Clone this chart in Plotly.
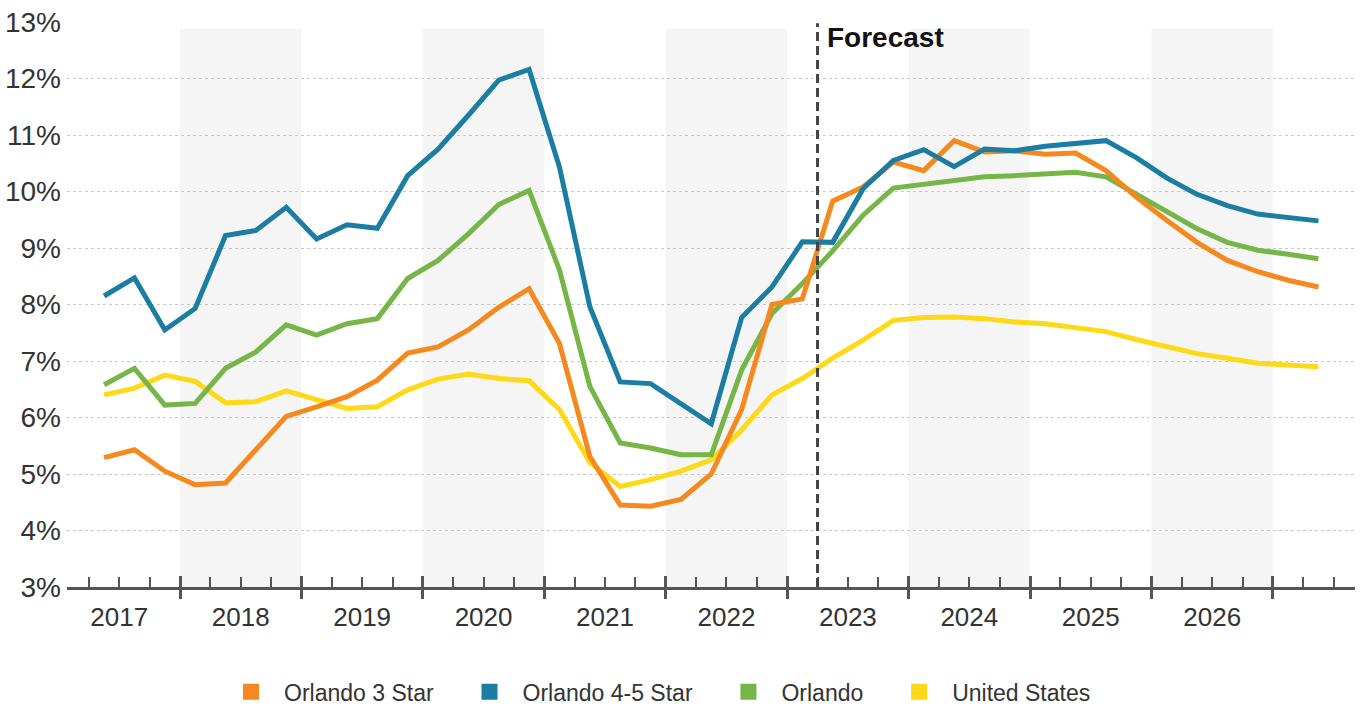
import plotly.graph_objects as go

# Quarterly vacancy series, 2017 Q2 through 2027 Q2
quarters = [f"{y} Q{q}" for y in range(2017, 2028) for q in range(1, 5)][1:42]

orlando_3_star = [
    5.29, 5.43, 5.05, 4.81, 4.84, 5.43, 6.02, 6.19, 6.37, 6.66,
    7.14, 7.25, 7.55, 7.95, 8.28, 7.31, 5.31, 4.45, 4.43, 4.55,
    5.00, 6.14, 8.00, 8.10, 9.83, 10.08, 10.52, 10.37, 10.90, 10.70,
    10.72, 10.66, 10.68, 10.37, 9.90, 9.49, 9.10, 8.78, 8.58, 8.43,
    8.31,
]
orlando_4_5_star = [
    8.15, 8.47, 7.55, 7.93, 9.22, 9.31, 9.72, 9.16, 9.41, 9.35,
    10.28, 10.75, 11.35, 11.97, 12.16, 10.43, 7.96, 6.63, 6.60, 6.25,
    5.89, 7.77, 8.31, 9.11, 9.10, 10.05, 10.55, 10.74, 10.44, 10.75,
    10.72, 10.80, 10.84, 10.90, 10.60, 10.24, 9.95, 9.75, 9.60, 9.55,
    9.48,
]
orlando = [
    6.58, 6.87, 6.22, 6.25, 6.87, 7.16, 7.64, 7.46, 7.66, 7.75,
    8.46, 8.78, 9.25, 9.77, 10.02, 8.61, 6.55, 5.55, 5.46, 5.34,
    5.34, 6.84, 7.84, 8.37, 8.95, 9.58, 10.06, 10.13, 10.18, 10.26,
    10.28, 10.31, 10.34, 10.26, 9.96, 9.66, 9.34, 9.10, 8.96, 8.89,
    8.81,
]
united_states = [
    6.40, 6.52, 6.75, 6.64, 6.26, 6.28, 6.47, 6.31, 6.16, 6.19,
    6.49, 6.68, 6.77, 6.69, 6.65, 6.14, 5.20, 4.78, 4.90, 5.05,
    5.25, 5.78, 6.40, 6.69, 7.05, 7.37, 7.72, 7.77, 7.78, 7.75,
    7.69, 7.66, 7.60, 7.52, 7.38, 7.25, 7.13, 7.05, 6.96, 6.93,
    6.90,
]

year_labels = ["2017", "2018", "2019", "2020", "2021", "2022", "2023", "2024", "2025", "2026"]
shaded_years = [2018, 2020, 2022, 2024, 2026]
forecast_start = "2023 Q2"
y_ticks = [3, 4, 5, 6, 7, 8, 9, 10, 11, 12, 13]

series = [
    ("United States", united_states, "#FDD917"),
    ("Orlando", orlando, "#76B547"),
    ("Orlando 3 Star", orlando_3_star, "#F5891E"),
    ("Orlando 4-5 Star", orlando_4_5_star, "#1B7DA2"),
]
legend_order = ["Orlando 3 Star", "Orlando 4-5 Star", "Orlando", "United States"]


def qpos(label):
    """Numeric position of a quarter: centre of the quarter in year units."""
    y, q = label.split(" Q")
    return int(y) + (int(q) - 0.5) / 4


def qstart(label):
    y, q = label.split(" Q")
    return int(y) + (int(q) - 1) / 4


x = [qpos(q) for q in quarters]
x_range = [2017.0695, 2027.676]
year_bounds = [int(y) + 1 for y in year_labels]
year_centres = [int(y) + 0.5 for y in year_labels]
quarter_bounds = [y + k / 4 for y in range(2017, 2028) for k in range(4)
                  if x_range[0] < y + k / 4 < x_range[1]]

FONT = "Liberation Sans, Arial, sans-serif"
AXIS_COLOR = "#555555"
TEXT_COLOR = "#333333"
LEGEND_PAD = "\u2002\u00a0"  # extra room between legend entries

fig = go.Figure()

for name, vals, color in series:
    fig.add_trace(go.Scatter(
        x=x, y=vals, mode="lines", name=name, showlegend=False,
        line=dict(color=color, width=5), hoverinfo="x+y+name",
    ))

colors = {n: c for n, _, c in series}
for name in legend_order:
    fig.add_trace(go.Scatter(
        x=[None], y=[None], mode="markers", name=name + LEGEND_PAD,
        marker=dict(symbol="square", size=16, color=colors[name]),
    ))

# empty traces so the overlaid tick axes get drawn
for ax in ["x2", "x3"]:
    fig.add_trace(go.Scatter(x=[], y=[], xaxis=ax, yaxis="y",
                             showlegend=False, hoverinfo="skip"))

# alternating year bands
for yr in shaded_years:
    fig.add_shape(type="rect", xref="x", yref="y", x0=yr, x1=yr + 1,
                  y0=3, y1=12.88, fillcolor="#F5F5F5", line=dict(width=0),
                  layer="below")

# forecast divider
fx = qstart(forecast_start)
fig.add_shape(type="line", xref="x", yref="y", x0=fx, x1=fx, y0=3, y1=12.98,
              line=dict(color="#444444", width=3, dash="9px,5px"), layer="above")
fig.add_annotation(x=fx, y=0.972, xref="x", yref="paper", text="<b>Forecast</b>",
                   showarrow=False, xanchor="left", yanchor="middle", xshift=7,
                   font=dict(family=FONT, size=28, color="#111111"))

common_x = dict(range=x_range, showgrid=False, zeroline=False, fixedrange=True,
                automargin=False)

fig.update_layout(
    width=1367, height=711,
    margin=dict(l=67, r=12, t=22, b=124, autoexpand=False),
    paper_bgcolor="white", plot_bgcolor="white",
    font=dict(family=FONT, color=TEXT_COLOR),
    xaxis=dict(
        **common_x, showline=True, linecolor=AXIS_COLOR, linewidth=2.5,
        tickmode="array", tickvals=year_bounds, ticks="inside", ticklen=11,
        tickwidth=3, tickcolor=AXIS_COLOR, showticklabels=False,
        minor=dict(tickmode="array", tickvals=quarter_bounds, ticks="inside",
                   ticklen=10, tickwidth=1.5, tickcolor=AXIS_COLOR, showgrid=False),
    ),
    xaxis2=dict(
        **common_x, overlaying="x", anchor="y", side="bottom", showline=False,
        tickmode="array", tickvals=year_bounds, ticks="outside", ticklen=11,
        tickwidth=3, tickcolor=AXIS_COLOR, showticklabels=False,
    ),
    xaxis3=dict(
        **common_x, overlaying="x", anchor="y", side="bottom", showline=False,
        tickmode="array", tickvals=year_centres, ticktext=year_labels, ticks="",
        showticklabels=True, ticklabelstandoff=12,
        tickfont=dict(family=FONT, size=26, color=TEXT_COLOR),
    ),
    yaxis=dict(
        range=[3, 13], tickmode="array", tickvals=y_ticks,
        ticktext=[f"{v}%" for v in y_ticks], showline=False, zeroline=False,
        showgrid=True, gridcolor="#C8C8C8", gridwidth=1, griddash="dot",
        ticks="", ticklabelstandoff=5, fixedrange=True, automargin=False,
        tickfont=dict(family=FONT, size=28, color=TEXT_COLOR),
    ),
    legend=dict(
        orientation="h", xref="container", yref="container",
        x=0.1595, y=0.027, xanchor="left", yanchor="middle",
        itemwidth=56, font=dict(family=FONT, size=23, color=TEXT_COLOR),
        bgcolor="rgba(0,0,0,0)", itemclick=False, itemdoubleclick=False,
    ),
    showlegend=True,
)

fig.write_html("out.html")
